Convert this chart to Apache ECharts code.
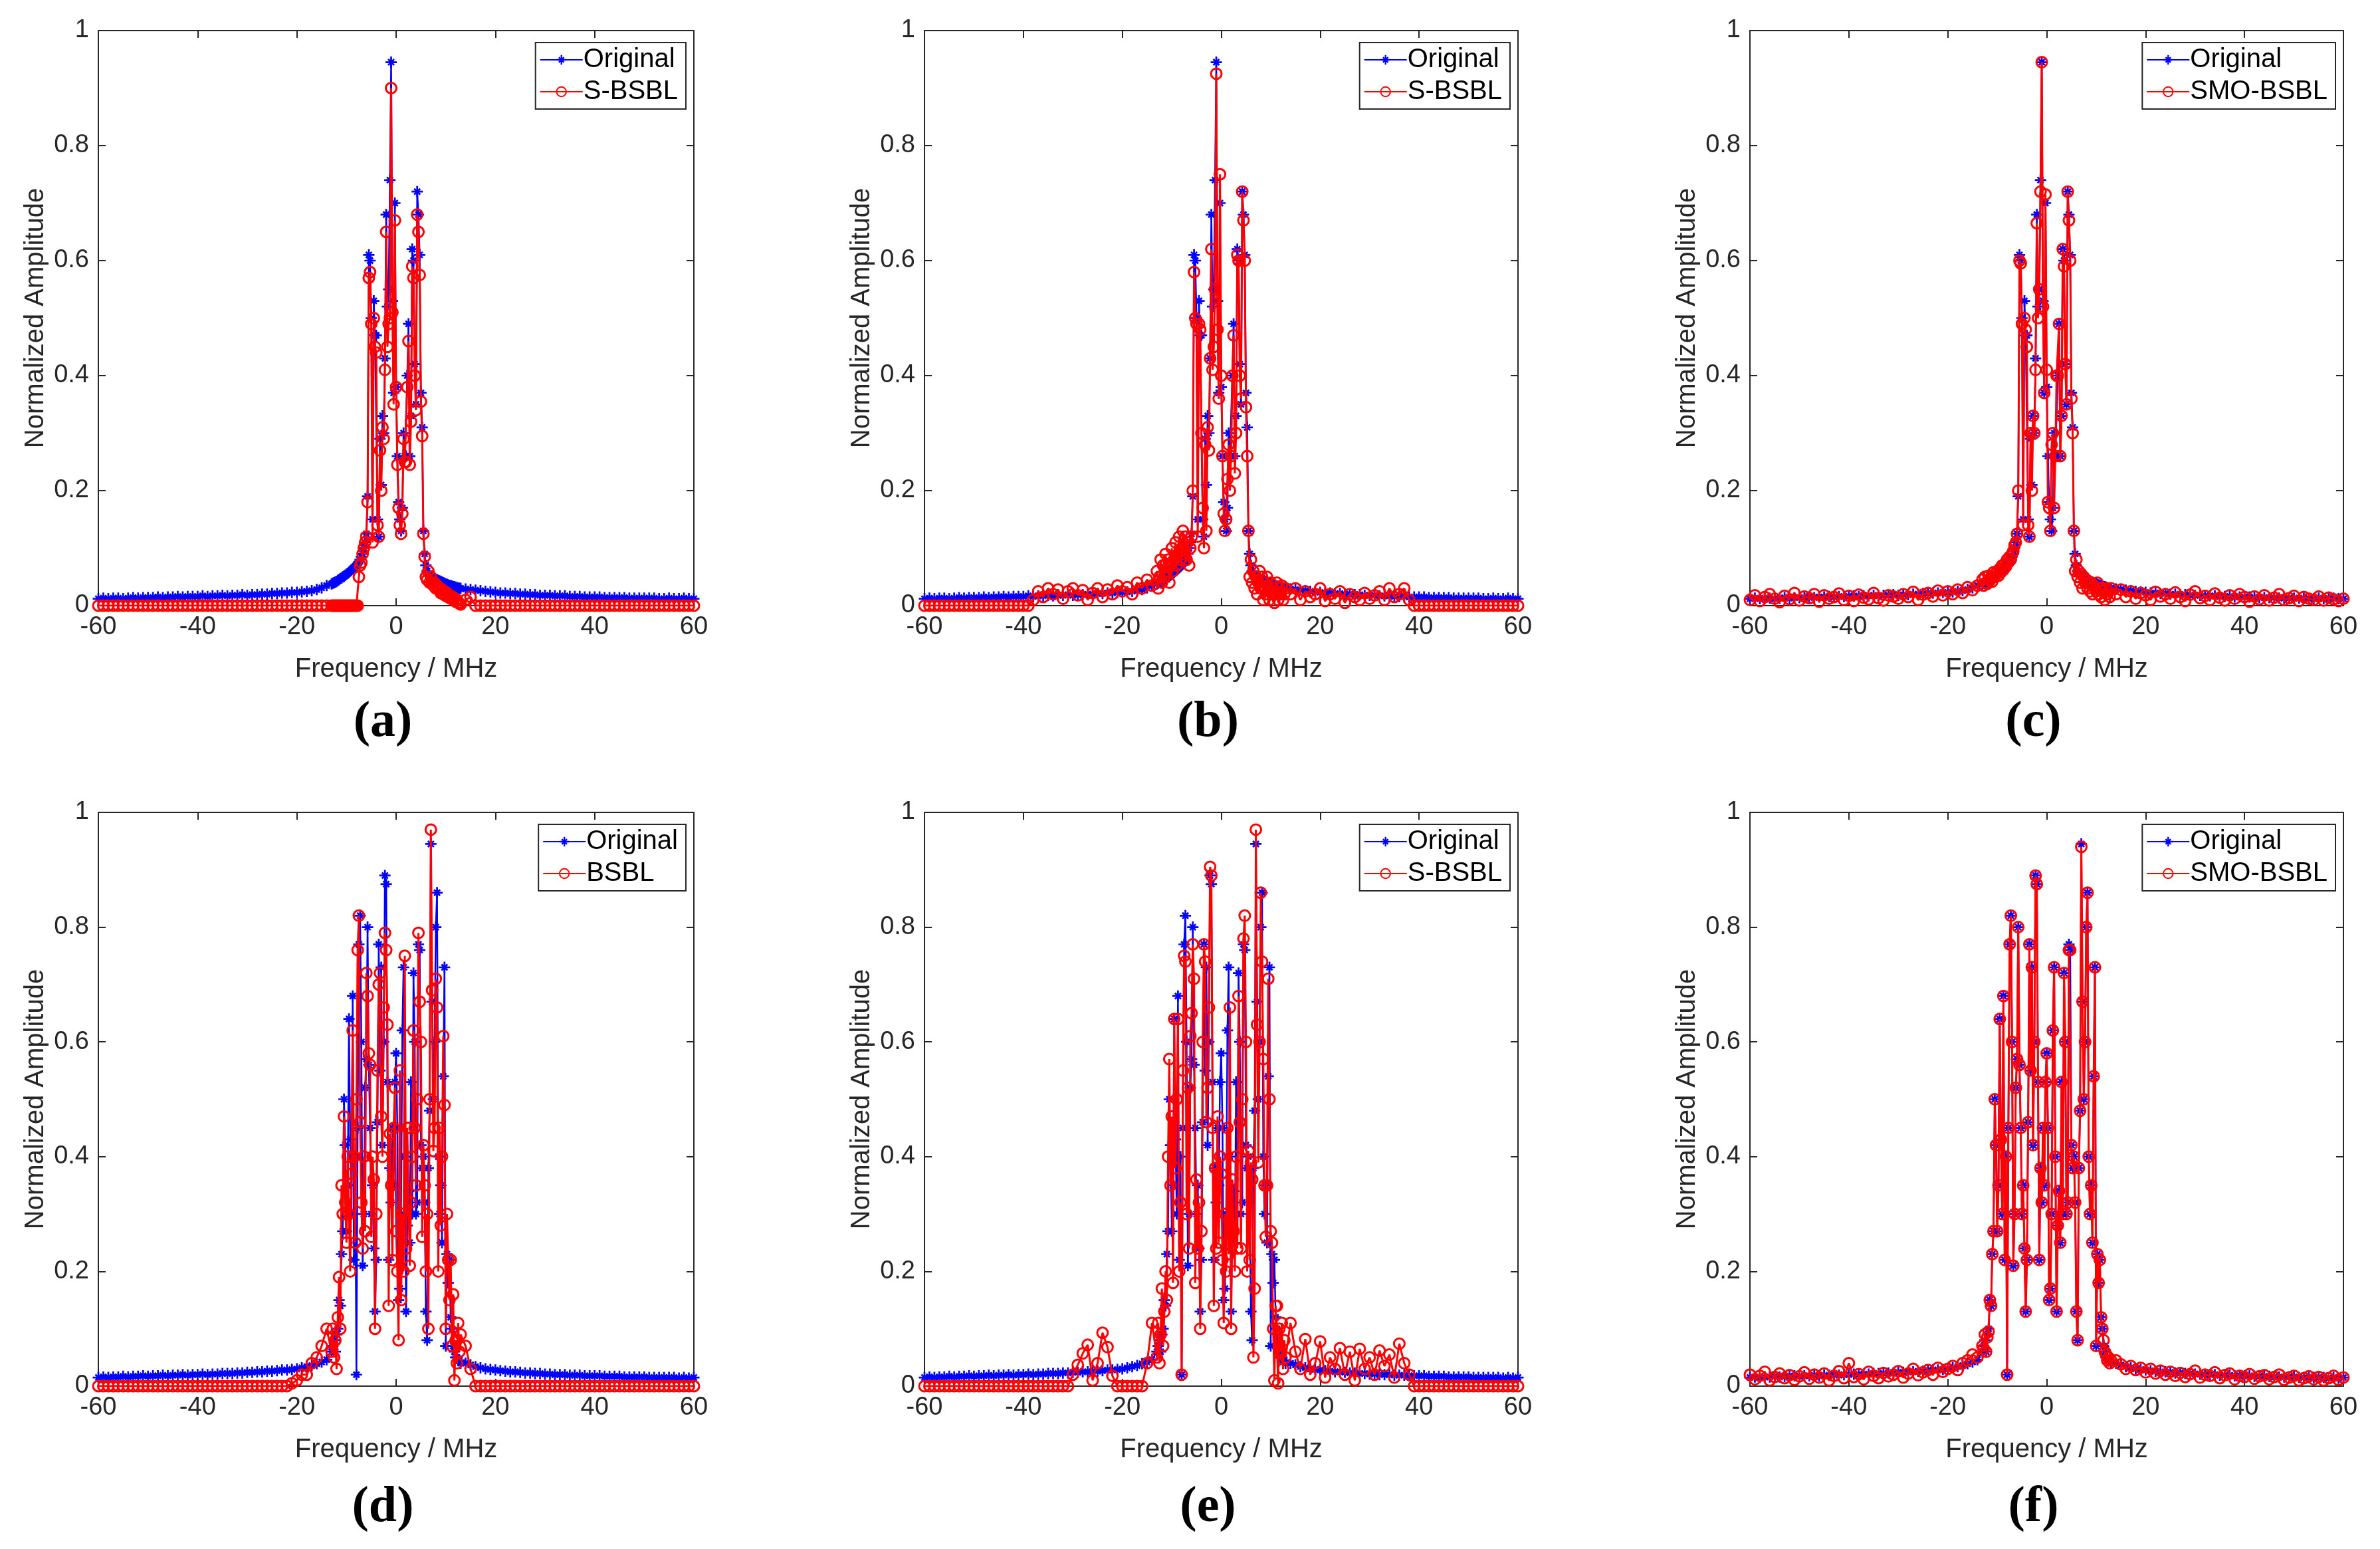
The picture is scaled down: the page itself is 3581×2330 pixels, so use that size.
<!DOCTYPE html>
<html lang="en">
<head>
    <meta charset="UTF-8">
    <title>Spectrum reconstruction</title>
    <script src="https://cdn.jsdelivr.net/npm/echarts@6/dist/echarts.min.js"></script>
    <style>
        body { margin: 0; background: #fff; }
        #main { width: 3581px; height: 2330px; }
    </style>
</head>
<body>
<div id="main"></div>
<script type="text/javascript">
    // frequency grid (MHz): 1 MHz in the tails, 0.25 MHz in the core
    var freqMHz = [
        -60, -59, -58, -57, -56, -55, -54, -53, -52, -51,
        -50, -49, -48, -47, -46, -45, -44, -43, -42, -41,
        -40, -39, -38, -37, -36, -35, -34, -33, -32, -31,
        -30, -29, -28, -27, -26, -25, -24, -23, -22, -21,
        -20, -19, -18, -17, -16, -15, -14,
        -13, -12.75, -12.5, -12.25, -12, -11.75, -11.5, -11.25,
        -11, -10.75, -10.5, -10.25, -10, -9.75, -9.5, -9.25,
        -9, -8.75, -8.5, -8.25, -8, -7.75, -7.5, -7.25,
        -7, -6.75, -6.5, -6.25, -6, -5.75, -5.5, -5.25,
        -5, -4.75, -4.5, -4.25, -4, -3.75, -3.5, -3.25,
        -3, -2.75, -2.5, -2.25, -2, -1.75, -1.5, -1.25,
        -1, -0.75, -0.5, -0.25, 0, 0.25, 0.5, 0.75,
        1, 1.25, 1.5, 1.75, 2, 2.25, 2.5, 2.75,
        3, 3.25, 3.5, 3.75, 4, 4.25, 4.5, 4.75,
        5, 5.25, 5.5, 5.75, 6, 6.25, 6.5, 6.75,
        7, 7.25, 7.5, 7.75, 8, 8.25, 8.5, 8.75,
        9, 9.25, 9.5, 9.75, 10, 10.25, 10.5, 10.75,
        11, 11.25, 11.5, 11.75, 12, 12.25, 12.5, 12.75,
        13,
        14, 15, 16, 17, 18, 19, 20, 21, 22, 23,
        24, 25, 26, 27, 28, 29, 30, 31, 32, 33,
        34, 35, 36, 37, 38, 39, 40, 41, 42, 43,
        44, 45, 46, 47, 48, 49, 50, 51, 52, 53,
        54, 55, 56, 57, 58, 59, 60
    ];

    // top row: original spectrum (same in a, b, c)
    var origTop = [
        .012, .013, .012, .013, .013, .012, .013, .014, .013, .014,
        .014, .014, .015, .014, .015, .015, .016, .015, .016, .016,
        .016, .017, .016, .017, .017, .018, .017, .018, .018, .019,
        .018, .019, .019, .020, .020, .021, .021, .022, .022, .023,
        .023, .024, .025, .026, .028, .031, .035,
        .038, .039, .040, .041, .042, .044, .045, .047,
        .048, .050, .051, .053, .055, .056, .058, .060,
        .062, .064, .066, .068, .070, .073, .076, .080,
        .085, .090, .100, .110, .125, .190, .610, .600,
        .500, .150, .530, .470, .470, .150, .120, .290,
        .210, .330, .300, .430, .680, .520, .550, .740,
        .945, .530, .370, .700, .380, .260, .180, .150,
        .130, .170, .300, .260, .260, .400, .490, .260,
        .330, .620, .600, .420, .350, .720, .680, .610,
        .370, .310, .130, .090, .070, .060, .055, .052,
        .050, .049, .048, .047, .046, .045, .044, .043,
        .042, .041, .040, .039, .038, .037, .036, .035,
        .035, .034, .033, .033, .032, .031, .031, .030,
        .030,
        .029, .028, .027, .026, .025, .024, .023, .022, .022, .021,
        .021, .020, .020, .019, .019, .018, .018, .018, .017, .017,
        .017, .016, .016, .016, .015, .015, .015, .015, .014, .014,
        .014, .014, .014, .013, .013, .013, .013, .013, .013, .012,
        .012, .013, .012, .012, .013, .012, .012
    ];

    var sbslA = [
        0, 0, 0, 0, 0, 0, 0, 0, 0, 0,
        0, 0, 0, 0, 0, 0, 0, 0, 0, 0,
        0, 0, 0, 0, 0, 0, 0, 0, 0, 0,
        0, 0, 0, 0, 0, 0, 0, 0, 0, 0,
        0, 0, 0, 0, 0, 0, 0,
        0, 0, 0, 0, 0, 0, 0, 0,
        0, 0, 0, 0, 0, 0, 0, 0,
        0, 0, 0, 0, 0, 0, .050, .070,
        .075, .090, .100, .110, .120, .180, .570, .580,
        .490, .110, .500, .450, .440, .140, .120, .270,
        .200, .310, .290, .410, .650, .450, .490, .500,
        .900, .510, .350, .670, .380, .245, .170, .140,
        .125, .160, .290, .250, .250, .380, .460, .245,
        .320, .590, .570, .400, .340, .680, .650, .575,
        .355, .295, .125, .085, .050, .045, .060, .040,
        .050, .040, .035, .040, .030, .035, .028, .030,
        .022, .028, .020, .025, .017, .022, .015, .018,
        .012, .016, .010, .013, .007, .010, .005, .004,
        .002,
        .010, .015, 0, 0, 0, 0, 0, 0, 0, 0,
        0, 0, 0, 0, 0, 0, 0, 0, 0, 0,
        0, 0, 0, 0, 0, 0, 0, 0, 0, 0,
        0, 0, 0, 0, 0, 0, 0, 0, 0, 0,
        0, 0, 0, 0, 0, 0, 0
    ];

    var sbslB = [
        0, 0, 0, 0, 0, 0, 0, 0, 0, 0,
        0, 0, 0, 0, 0, 0, 0, 0, 0, 0,
        0, 0, .010, .025, .015, .030, .020, .028, .012, .025,
        .030, .018, .027, .010, .022, .030, .015, .028, .020, .035,
        .025, .032, .020, .040, .030, .045, .035,
        .060, .030, .050, .080, .040, .070, .050, .090,
        .060, .080, .040, .070, .100, .060, .080, .110,
        .070, .090, .120, .080, .100, .130, .090, .120,
        .080, .110, .070, .100, .120, .200, .580, .500,
        .490, .120, .490, .480, .300, .170, .100, .280,
        .130, .310, .270, .430, .620, .410, .450, .550,
        .925, .480, .360, .750, .400, .260, .160, .130,
        .150, .220, .280, .200, .260, .400, .470, .230,
        .300, .610, .600, .400, .360, .720, .670, .600,
        .345, .260, .130, .050, .080, .040, .060, .030,
        .050, .020, .040, .060, .030, .050, .010, .040,
        .020, .050, .030, .010, .040, .020, .030, .005,
        .020, .040, .010, .030, .020, .035, .010, .020,
        .030,
        .020, .030, .010, .025, .015, .020, .030, .008, .020, .012,
        .025, .005, .020, .015, .010, .022, .012, .018, .025, .010,
        .030, .015, .020, .030, .010, 0, 0, 0, 0, 0,
        0, 0, 0, 0, 0, 0, 0, 0, 0, 0,
        0, 0, 0, 0, 0, 0, 0
    ];

    var smoC = [
        .010, .018, .008, .015, .020, .012, .006, .017, .011, .022,
        .009, .016, .013, .020, .007, .018, .012, .015, .021, .010,
        .017, .008, .019, .014, .011, .022, .013, .009, .018, .016,
        .012, .020, .015, .024, .010, .019, .022, .016, .026, .018,
        .025, .020, .028, .022, .032, .027, .035,
        .045, .035, .050, .040, .038, .052, .044, .050,
        .042, .058, .050, .055, .060, .052, .064, .058,
        .070, .062, .072, .068, .080, .075, .085, .080,
        .090, .095, .105, .110, .125, .200, .600, .595,
        .490, .140, .500, .480, .450, .140, .120, .300,
        .200, .330, .300, .410, .665, .500, .550, .720,
        .945, .520, .370, .715, .410, .180, .170, .130,
        .280, .300, .170, .260, .400, .400, .490, .260,
        .330, .620, .590, .420, .350, .720, .670, .600,
        .360, .300, .130, .060, .080, .050, .060, .040,
        .055, .030, .050, .040, .045, .030, .040, .025,
        .040, .020, .035, .030, .025, .040, .020, .030,
        .015, .030, .025, .010, .030, .020, .025, .015,
        .030,
        .020, .028, .015, .025, .012, .022, .018, .010, .024, .016,
        .020, .012, .023, .015, .008, .019, .025, .013, .017, .010,
        .021, .014, .009, .018, .012, .020, .015, .007, .016, .011,
        .018, .009, .014, .020, .010, .013, .017, .008, .015, .012,
        .010, .016, .009, .014, .011, .008, .012
    ];

    // bottom row: original spectrum (same in d, e, f)
    var origBottom = [
        .015, .016, .015, .016, .016, .017, .016, .017, .017, .018,
        .017, .018, .018, .019, .018, .019, .019, .020, .019, .020,
        .020, .021, .020, .021, .021, .022, .022, .022, .023, .023,
        .024, .024, .025, .025, .026, .026, .027, .028, .028, .029,
        .030, .032, .034, .036, .039, .042, .046,
        .060, .070, .080, .060, .090, .100, .150, .140,
        .230, .270, .500, .420, .270, .350, .640, .430,
        .300, .680, .220, .400, .020, .450, .770, .820,
        .600, .210, .300, .520, .570, .800, .560, .450,
        .300, .350, .240, .130, .220, .460, .770, .550,
        .730, .420, .600, .890, .875, .530, .220, .380,
        .320, .450, .350, .530, .580, .450, .150, .170,
        .300, .620, .730, .400, .130, .280, .340, .250,
        .530, .300, .720, .600, .300, .320, .770, .760,
        .420, .380, .400, .320, .130, .080, .380, .480,
        .945, .670, .500, .600, .800, .860, .400, .300,
        .350, .250, .540, .730, .070, .230, .180, .220,
        .120, .100, .070, .060, .050, .050, .045, .045,
        .040,
        .040, .037, .034, .032, .030, .029, .028, .027, .026, .025,
        .025, .024, .023, .023, .022, .022, .021, .021, .020, .020,
        .020, .019, .019, .019, .018, .018, .018, .018, .017, .017,
        .017, .017, .016, .016, .016, .016, .016, .015, .015, .015,
        .015, .015, .015, .014, .015, .014, .015
    ];

    var bsblD = [
        0, 0, 0, 0, 0, 0, 0, 0, 0, 0,
        0, 0, 0, 0, 0, 0, 0, 0, 0, 0,
        0, 0, 0, 0, 0, 0, 0, 0, 0, 0,
        0, 0, 0, 0, 0, 0, 0, 0, 0, .005,
        .010, .020, .020, .040, .050, .070, .100,
        .060, .100, .050, .080, .030, .120, .190, .100,
        .350, .300, .470, .320, .250, .400, .300, .200,
        .370, .620, .400, .250, .500, .760, .820, .460,
        .320, .240, .400, .270, .720, .680, .580, .560,
        .260, .400, .360, .100, .300, .550, .700, .720,
        .470, .400, .660, .790, .760, .630, .140, .440,
        .350, .220, .450, .520, .270, .200, .080, .550,
        .150, .300, .200, .750, .240, .450, .450, .210,
        .320, .400, .620, .450, .350, .500, .790, .670,
        .600, .260, .420, .350, .200, .300, .100, .500,
        .970, .690, .410, .450, .710, .660, .200, .450,
        .280, .400, .610, .490, .100, .300, .220, .150,
        .220, .070, .160, .010, .080, .040, .110, .060,
        .090,
        .070, .030, 0, 0, 0, 0, 0, 0, 0, 0,
        0, 0, 0, 0, 0, 0, 0, 0, 0, 0,
        0, 0, 0, 0, 0, 0, 0, 0, 0, 0,
        0, 0, 0, 0, 0, 0, 0, 0, 0, 0,
        0, 0, 0, 0, 0, 0, 0
    ];

    var sbslE = [
        0, 0, 0, 0, 0, 0, 0, 0, 0, 0,
        0, 0, 0, 0, 0, 0, 0, 0, 0, 0,
        0, 0, 0, 0, 0, 0, 0, 0, 0, 0,
        .020, .037, .057, .072, .010, .040, .093, .068, .018, 0,
        0, 0, 0, 0, 0, .040, .110,
        .050, .110, .040, .090, .170, .070, .130, .200,
        .150, .400, .570, .350, .470, .180, .640, .380,
        .500, .640, .200, .320, .020, .550, .750, .740,
        .300, .520, .240, .610, .650, .770, .710, .180,
        .360, .240, .320, .100, .270, .600, .770, .740,
        .460, .520, .660, .905, .890, .450, .140, .380,
        .240, .470, .250, .400, .370, .220, .110, .300,
        .200, .450, .230, .660, .100, .360, .270, .200,
        .400, .240, .680, .460, .240, .500, .780, .820,
        .600, .200, .410, .220, .390, .360, .050, .170,
        .970, .630, .390, .600, .860, .740, .570, .350,
        .260, .350, .710, .500, .270, .250, .100, .010,
        .140, .140, .005, .100, .060, .110, .030, .080,
        .050,
        .110, .060, .030, .082, .020, .040, .078, .015, .050, .030,
        .066, .020, .060, .010, .065, .030, .050, .020, .062, .035,
        .055, .015, .074, .040, .020, 0, 0, 0, 0, 0,
        0, 0, 0, 0, 0, 0, 0, 0, 0, 0,
        0, 0, 0, 0, 0, 0, 0
    ];

    var smoF = [
        .020, .012, .018, .025, .010, .016, .022, .014, .019, .011,
        .017, .024, .013, .020, .015, .022, .010, .018, .026, .014,
        .040, .016, .021, .012, .025, .018, .014, .023, .017, .020,
        .026, .015, .022, .030, .019, .024, .028, .020, .032, .025,
        .030, .035, .028, .040, .045, .055, .050,
        .070, .065, .090, .060, .085, .095, .150, .140,
        .230, .270, .500, .420, .270, .350, .640, .430,
        .300, .680, .220, .400, .020, .450, .770, .820,
        .600, .210, .300, .520, .570, .800, .560, .450,
        .300, .350, .240, .130, .220, .460, .770, .550,
        .730, .420, .600, .890, .875, .530, .220, .380,
        .320, .450, .350, .530, .580, .450, .150, .170,
        .300, .620, .730, .400, .130, .280, .340, .250,
        .530, .300, .720, .600, .300, .320, .760, .760,
        .420, .380, .400, .320, .130, .080, .380, .480,
        .940, .670, .500, .600, .800, .860, .400, .300,
        .350, .250, .540, .730, .070, .230, .180, .220,
        .120, .100, .080, .060, .055, .045, .050, .040,
        .045,
        .045, .038, .030, .035, .028, .032, .024, .030, .022, .027,
        .020, .025, .018, .023, .016, .021, .027, .015, .020, .018,
        .024, .014, .019, .022, .012, .018, .016, .021, .013, .017,
        .019, .012, .016, .020, .011, .015, .018, .010, .014, .017,
        .012, .016, .010, .014, .018, .011, .015
    ];

    var xTicks = [-60, -40, -20, 0, 20, 40, 60];
    var yTicks = [0, 0.2, 0.4, 0.6, 0.8, 1];

    var panels = [
        {orig: origTop, rec: sbslA, name: 'S-BSBL', tag: '(a)'},
        {orig: origTop, rec: sbslB, name: 'S-BSBL', tag: '(b)'},
        {orig: origTop, rec: smoC, name: 'SMO-BSBL', tag: '(c)'},
        {orig: origBottom, rec: bsblD, name: 'BSBL', tag: '(d)'},
        {orig: origBottom, rec: sbslE, name: 'S-BSBL', tag: '(e)'},
        {orig: origBottom, rec: smoF, name: 'SMO-BSBL', tag: '(f)'}
    ];

    // plot boxes (px)
    var boxLeft = [148, 1391, 2633];
    var boxWidth = [896, 893, 893];
    var boxTop = [46, 1222];
    var boxHeight = [865, 863];
    var tagY = [1087, 2268];

    // matlab-style '*' marker: + and x bars
    var asterisk = 'path://M8.4 0L11.6 0L11.6 20L8.4 20Z M0 8.4L20 8.4L20 11.6L0 11.6Z ' +
        'M5.83 3.57L16.43 14.17L14.17 16.43L3.57 5.83Z M16.43 5.83L5.83 16.43L3.57 14.17L14.17 3.57Z';

    var ink = '#262626';
    var sans = 'Liberation Sans, Arial, sans-serif';

    function pairs(vals) {
        return freqMHz.map(function (f, i) { return [f, vals[i]]; });
    }

    var option = {
        animation: false,
        backgroundColor: '#ffffff',
        grid: [], xAxis: [], yAxis: [], legend: [], series: [], graphic: []
    };

    panels.forEach(function (p, k) {
        var col = k % 3, row = Math.floor(k / 3);
        var left = boxLeft[col], w = boxWidth[col], top = boxTop[row], h = boxHeight[row];
        option.grid.push({left: left, top: top, width: w, height: h, containLabel: false});

        // box frame: onZero off so the left axis stays on the frame
        var lineCfg = {show: true, onZero: false, lineStyle: {color: ink, width: 2}};
        var tickCfg = {show: true, inside: true, length: 11, lineStyle: {color: ink, width: 2}};
        var base = {gridIndex: k, type: 'value', splitLine: {show: false}, axisLine: lineCfg, axisTick: tickCfg};

        option.xAxis.push(Object.assign({}, base, {
            position: 'bottom', min: xTicks[0], max: xTicks[xTicks.length - 1], interval: 20,
            axisLabel: {color: ink, fontSize: 38, fontFamily: sans, margin: 14},
            name: 'Frequency / MHz', nameLocation: 'middle', nameGap: 76,
            nameTextStyle: {color: ink, fontSize: 40, fontFamily: sans}
        }));
        option.xAxis.push(Object.assign({}, base, {
            position: 'top', min: xTicks[0], max: xTicks[xTicks.length - 1], interval: 20,
            axisLabel: {show: false}
        }));
        option.yAxis.push(Object.assign({}, base, {
            position: 'left', min: yTicks[0], max: yTicks[yTicks.length - 1], interval: 0.2,
            axisLabel: {color: ink, fontSize: 38, fontFamily: sans, margin: 14},
            name: 'Normalized Amplitude', nameLocation: 'middle', nameGap: 74,
            nameTextStyle: {color: ink, fontSize: 40, fontFamily: sans}
        }));
        option.yAxis.push(Object.assign({}, base, {
            position: 'right', min: yTicks[0], max: yTicks[yTicks.length - 1], interval: 0.2,
            axisLabel: {show: false}
        }));

        option.series.push({
            name: 'Original', type: 'line',
            xAxisIndex: 2 * k, yAxisIndex: 2 * k,
            data: pairs(p.orig),
            symbol: asterisk, symbolSize: 17, showSymbol: true, showAllSymbol: true,
            itemStyle: {color: '#0000ff'},
            lineStyle: {color: '#0000ff', width: 2.5},
            emphasis: {disabled: true}, z: 2
        });
        option.series.push({
            name: p.name, type: 'line',
            xAxisIndex: 2 * k, yAxisIndex: 2 * k,
            data: pairs(p.rec),
            symbol: 'circle', symbolSize: 16, showSymbol: true, showAllSymbol: true,
            itemStyle: {color: 'rgba(255,0,0,0)', borderColor: '#ff0000', borderWidth: 3},
            lineStyle: {color: '#ff0000', width: 3},
            emphasis: {disabled: true}, z: 3
        });

        option.legend.push({
            data: ['Original', p.name],
            orient: 'vertical',
            right: 3581 - (left + w - 12),
            top: top + 18,
            backgroundColor: '#ffffff',
            borderColor: ink, borderWidth: 2, borderRadius: 0,
            padding: [6, 12, 6, 6],
            itemGap: 8, itemWidth: 64, itemHeight: 18,
            selectedMode: false,
            textStyle: {color: '#000', fontSize: 40, fontFamily: sans, padding: [0, 0, 0, -4]},
            z: 10
        });

        option.graphic.push({
            type: 'text',
            x: left + w / 2 - 20,
            y: tagY[row],
            style: {
                text: p.tag, align: 'center', verticalAlign: 'middle',
                font: 'bold 76px "Liberation Serif", "Times New Roman", serif', fill: '#000'
            }
        });
    });

    var myChart = echarts.init(document.getElementById('main'));
    myChart.setOption(option);
</script>
</body>
</html>
